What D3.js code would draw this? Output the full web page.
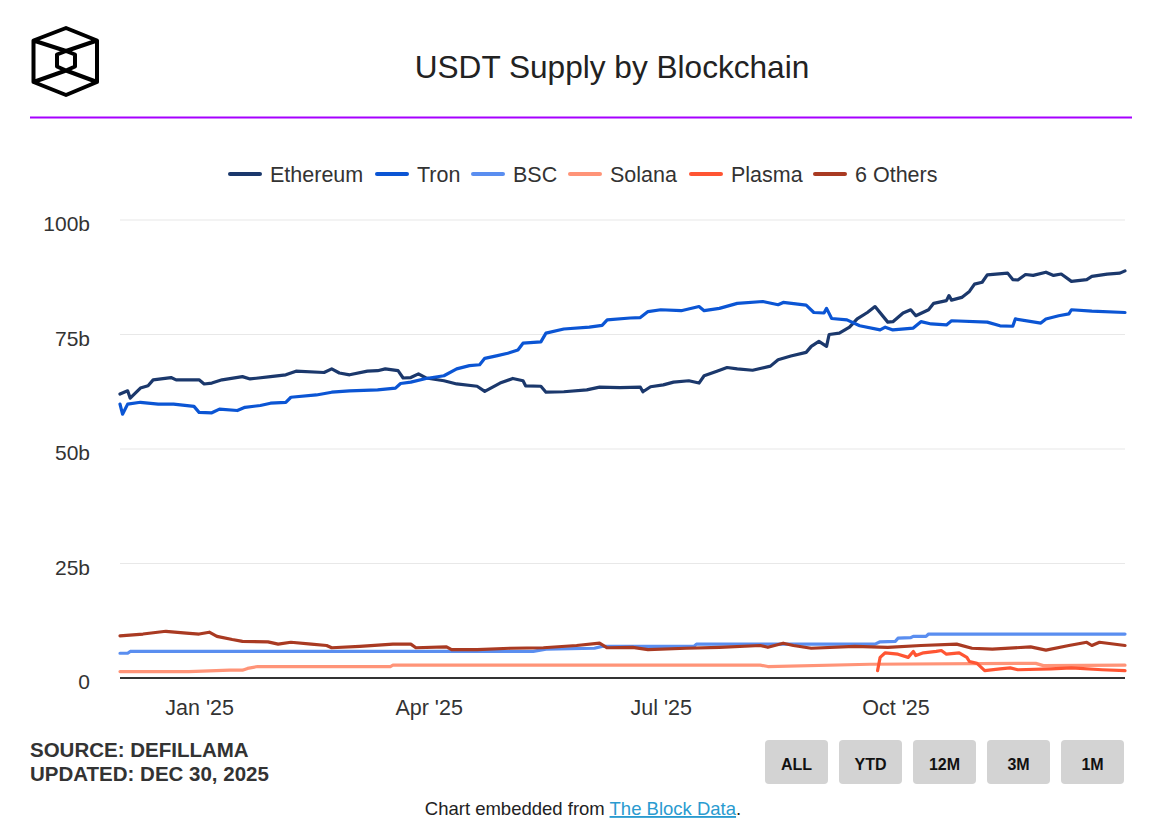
<!DOCTYPE html>
<html>
<head>
<meta charset="utf-8">
<script src="https://cdn.jsdelivr.net/npm/d3@7"></script>
<style>
  body { margin: 0; background: #fff; }
  text { font-family: "Liberation Sans", Arial, Helvetica, sans-serif; }
</style>
</head>
<body>
<div id="chart"></div>
<script>
// series values in billions
var ethereum = [
  ["2024-12-01",62.0],["2024-12-04",62.7],["2024-12-05",61.1],["2024-12-09",63.3],["2024-12-12",63.8],
  ["2024-12-14",65.1],["2024-12-21",65.6],["2024-12-23",65.1],["2025-01-01",65.1],["2025-01-03",64.2],
  ["2025-01-06",64.4],["2025-01-10",65.1],["2025-01-18",65.8],["2025-01-21",65.3],["2025-01-29",65.8],
  ["2025-02-04",66.2],["2025-02-08",67.0],["2025-02-19",66.7],["2025-02-22",67.5],["2025-02-25",66.6],
  ["2025-03-01",66.2],["2025-03-08",67.0],["2025-03-12",67.1],["2025-03-15",67.5],["2025-03-20",67.1],
  ["2025-03-22",65.5],["2025-03-25",65.6],["2025-03-28",66.4],["2025-03-31",65.5],["2025-04-07",64.9],
  ["2025-04-12",64.2],["2025-04-20",63.7],["2025-04-23",62.6],["2025-04-29",64.4],["2025-05-04",65.4],
  ["2025-05-08",64.9],["2025-05-09",63.8],["2025-05-15",63.7],["2025-05-17",62.4],["2025-05-24",62.5],
  ["2025-06-02",62.9],["2025-06-07",63.5],["2025-06-15",63.4],["2025-06-23",63.5],["2025-06-24",62.5],
  ["2025-06-27",63.6],["2025-07-02",64.0],["2025-07-06",64.6],["2025-07-12",64.9],["2025-07-16",64.4],
  ["2025-07-18",66.0],["2025-07-23",67.0],["2025-07-27",67.8],["2025-07-31",67.5],["2025-08-06",67.2],
  ["2025-08-13",68.1],["2025-08-16",69.5],["2025-08-21",70.3],["2025-08-27",71.1],["2025-08-29",72.4],
  ["2025-09-01",73.5],["2025-09-04",72.4],["2025-09-05",75.0],["2025-09-09",75.3],["2025-09-13",76.6],
  ["2025-09-16",78.4],["2025-09-20",79.8],["2025-09-23",81.1],["2025-09-28",77.7],["2025-09-30",77.8],
  ["2025-10-04",79.7],["2025-10-07",80.4],["2025-10-09",79.1],["2025-10-14",80.4],["2025-10-16",81.8],
  ["2025-10-21",82.4],["2025-10-22",83.5],["2025-10-23",82.5],["2025-10-27",83.1],["2025-10-30",84.4],
  ["2025-11-01",86.0],["2025-11-04",86.4],["2025-11-06",88.0],["2025-11-14",88.4],["2025-11-16",87.0],
  ["2025-11-18",86.9],["2025-11-21",88.1],["2025-11-24",87.9],["2025-11-29",88.6],["2025-12-02",87.9],
  ["2025-12-05",88.2],["2025-12-09",86.6],["2025-12-15",87.0],["2025-12-17",87.7],["2025-12-23",88.2],
  ["2025-12-28",88.4],["2025-12-30",88.9]
];
var tron = [
  ["2024-12-01",59.8],["2024-12-02",57.6],["2024-12-04",59.8],["2024-12-09",60.2],["2024-12-16",59.8],
  ["2024-12-22",59.8],["2024-12-30",59.3],["2025-01-01",58.0],["2025-01-06",57.9],["2025-01-09",58.7],
  ["2025-01-16",58.4],["2025-01-19",59.1],["2025-01-25",59.5],["2025-01-29",60.0],["2025-02-04",60.2],
  ["2025-02-06",61.3],["2025-02-16",61.8],["2025-02-22",62.4],["2025-03-01",62.7],["2025-03-12",62.9],
  ["2025-03-19",63.3],["2025-03-21",64.3],["2025-03-25",64.6],["2025-03-31",65.4],["2025-04-07",66.0],
  ["2025-04-12",67.5],["2025-04-17",68.2],["2025-04-21",68.4],["2025-04-23",69.8],["2025-04-28",70.4],
  ["2025-05-02",70.9],["2025-05-06",71.6],["2025-05-08",73.1],["2025-05-15",73.4],["2025-05-17",75.3],
  ["2025-05-24",76.2],["2025-06-03",76.6],["2025-06-08",77.0],["2025-06-10",78.2],["2025-06-19",78.6],
  ["2025-06-23",78.7],["2025-06-26",80.0],["2025-07-01",80.4],["2025-07-09",80.2],["2025-07-16",81.1],
  ["2025-07-18",80.2],["2025-07-24",80.7],["2025-07-31",81.8],["2025-08-10",82.2],["2025-08-16",81.5],
  ["2025-08-18",82.0],["2025-08-27",81.4],["2025-08-30",79.8],["2025-09-03",79.7],["2025-09-04",80.7],
  ["2025-09-06",78.5],["2025-09-12",78.2],["2025-09-17",76.9],["2025-09-25",76.0],["2025-09-27",76.6],
  ["2025-09-30",76.0],["2025-10-08",76.4],["2025-10-11",77.8],["2025-10-15",77.3],["2025-10-21",77.1],
  ["2025-10-23",78.0],["2025-11-06",77.7],["2025-11-11",76.9],["2025-11-16",76.8],["2025-11-17",78.4],
  ["2025-11-27",77.5],["2025-11-29",78.4],["2025-12-04",79.1],["2025-12-08",79.5],["2025-12-09",80.4],
  ["2025-12-17",80.1],["2025-12-30",79.8]
];
var bsc = [
  ["2024-12-01",5.4],["2024-12-04",5.4],["2024-12-05",5.8],["2025-05-12",5.8],["2025-05-17",6.3],
  ["2025-06-05",6.5],["2025-06-08",6.9],["2025-07-14",6.9],["2025-07-15",7.4],["2025-09-23",7.4],
  ["2025-09-25",7.9],["2025-10-01",8.0],["2025-10-02",8.7],["2025-10-07",8.8],["2025-10-08",9.1],
  ["2025-10-13",9.1],["2025-10-14",9.6],["2025-12-30",9.6]
];
var solana = [
  ["2024-12-01",1.4],["2024-12-28",1.4],["2025-01-13",1.7],["2025-01-18",1.7],["2025-01-20",2.1],
  ["2025-01-24",2.5],["2025-03-17",2.5],["2025-03-18",2.8],["2025-08-09",2.8],["2025-08-12",2.5],
  ["2025-09-21",3.0],["2025-11-25",3.2],["2025-11-28",2.7],["2025-12-30",2.8]
];
var plasma = [
  ["2025-09-24",1.6],["2025-09-25",4.5],["2025-09-27",5.5],["2025-10-02",5.2],["2025-10-06",4.5],
  ["2025-10-08",5.8],["2025-10-09",4.9],["2025-10-12",5.5],["2025-10-17",5.8],["2025-10-19",6.0],
  ["2025-10-21",5.2],["2025-10-26",5.5],["2025-10-29",4.5],["2025-10-30",3.6],["2025-11-02",3.2],
  ["2025-11-05",1.6],["2025-11-11",2.0],["2025-11-15",2.2],["2025-11-18",1.8],["2025-12-01",2.0],
  ["2025-12-09",2.2],["2025-12-21",1.8],["2025-12-30",1.6]
];
var others = [
  ["2024-12-01",9.2],["2024-12-10",9.6],["2024-12-19",10.2],["2024-12-27",9.8],["2025-01-01",9.6],
  ["2025-01-05",10.0],["2025-01-08",9.1],["2025-01-14",8.4],["2025-01-18",8.0],["2025-01-28",7.9],
  ["2025-02-01",7.4],["2025-02-06",7.8],["2025-02-14",7.4],["2025-02-20",7.1],["2025-02-22",6.6],
  ["2025-03-05",6.9],["2025-03-18",7.4],["2025-03-25",7.4],["2025-03-27",6.6],["2025-04-08",6.8],
  ["2025-04-10",6.2],["2025-04-20",6.2],["2025-05-03",6.5],["2025-05-16",6.6],["2025-05-29",7.1],
  ["2025-06-07",7.6],["2025-06-10",6.6],["2025-06-20",6.7],["2025-06-26",6.2],["2025-07-11",6.5],
  ["2025-07-24",6.7],["2025-08-09",7.1],["2025-08-12",6.7],["2025-08-18",7.6],["2025-08-22",7.1],
  ["2025-08-29",6.5],["2025-09-15",6.9],["2025-09-28",6.7],["2025-10-11",7.1],["2025-10-25",7.4],
  ["2025-10-31",6.5],["2025-11-08",6.3],["2025-11-23",6.8],["2025-11-29",6.1],["2025-12-08",7.1],
  ["2025-12-15",7.8],["2025-12-17",7.1],["2025-12-20",7.8],["2025-12-30",7.1]
];

var seriesNames = ["Ethereum", "Tron", "BSC", "Solana", "Plasma", "6 Others"];
var seriesColors = ["#1b386c", "#0b55d4", "#5a8ef0", "#ff9478", "#ff5533", "#a93a22"];
var seriesData = [ethereum, tron, bsc, solana, plasma, others];
var yTicks = [0, 25, 50, 75, 100];
var xTicks = ["2025-01-01", "2025-04-01", "2025-07-01", "2025-10-01"];
var buttons = ["ALL", "YTD", "12M", "3M", "1M"];

var W = 1158, H = 834;
var parse = d3.timeParse("%Y-%m-%d");

var svg = d3.select("#chart").append("svg")
    .attr("width", W)
    .attr("height", H);

svg.append("rect").attr("width", W).attr("height", H).attr("fill", "#fff");

// logo
svg.append("path")
    .attr("d", "M66,28L97,40.5L97,82L66,95L33.5,82L33.5,40.5Z" +
               "M66,51L75,54.5L75,66.5L66,70.5L57,66.5L57,54.5Z" +
               "M33.5,40.5L66,51L97,40.5M33.5,82L66,70.5L97,82")
    .attr("fill", "none")
    .attr("stroke", "#000")
    .attr("stroke-width", 4)
    .attr("stroke-linejoin", "round");

// title + purple rule
svg.append("text")
    .attr("x", 612).attr("y", 78)
    .attr("text-anchor", "middle")
    .style("font-size", "31.6px")
    .attr("fill", "#222")
    .text("USDT Supply by Blockchain");

svg.append("line")
    .attr("x1", 30).attr("x2", 1132)
    .attr("y1", 117.5).attr("y2", 117.5)
    .attr("stroke", "#a600ff")
    .attr("stroke-width", 2);

// scales
var x = d3.scaleTime()
    .domain([parse("2024-12-01"), parse("2025-12-30")])
    .range([120, 1125]);

var y = d3.scaleLinear()
    .domain([0, 100])
    .range([678, 220]);

// grid lines
svg.append("g")
    .selectAll("line")
    .data(yTicks.filter(d => d > 0))
    .enter()
    .append("line")
    .attr("x1", 120).attr("x2", 1125)
    .attr("y1", d => y(d)).attr("y2", d => y(d))
    .attr("stroke", "#e8e8e8")
    .attr("stroke-width", 1.2);

// y axis labels
var yAxis = svg.append("g")
    .attr("transform", "translate(90,0)")
    .call(d3.axisLeft(y).tickValues(yTicks).tickSize(0).tickPadding(0)
        .tickFormat(d => d === 0 ? "0" : d + "b"));
yAxis.select(".domain").remove();
yAxis.selectAll("text")
    .attr("dy", "0.5em")
    .style("font-size", "21px")
    .style("font-family", "'Liberation Sans', Arial, sans-serif")
    .attr("fill", "#333");

// x axis labels
var xAxis = svg.append("g")
    .attr("transform", "translate(0,678)")
    .call(d3.axisBottom(x).tickValues(xTicks.map(parse)).tickSize(0).tickPadding(0)
        .tickFormat(d3.timeFormat("%b '%y")));
xAxis.select(".domain").remove();
xAxis.selectAll("text")
    .attr("y", 37)
    .attr("dy", 0)
    .style("font-size", "21.5px")
    .style("font-family", "'Liberation Sans', Arial, sans-serif")
    .attr("fill", "#333");

// lines
var line = d3.line()
    .x(d => x(parse(d[0])))
    .y(d => y(d[1]));

svg.append("g")
    .selectAll("path")
    .data(seriesData)
    .enter()
    .append("path")
    .attr("d", line)
    .attr("fill", "none")
    .attr("stroke", (d, i) => seriesColors[i])
    .attr("stroke-width", 3.2)
    .attr("stroke-linejoin", "round")
    .attr("stroke-linecap", "round");

// zero baseline
svg.append("line")
    .attr("x1", 120).attr("x2", 1125)
    .attr("y1", y(0)).attr("y2", y(0))
    .attr("stroke", "#333")
    .attr("stroke-width", 2);

// legend
var legendX = [228, 375, 471, 568, 689, 813];
var legend = svg.append("g")
    .selectAll("g")
    .data(seriesNames)
    .enter()
    .append("g")
    .attr("transform", (d, i) => "translate(" + legendX[i] + ",174)");
legend.append("line")
    .attr("x1", 2).attr("x2", 32)
    .attr("stroke", (d, i) => seriesColors[i])
    .attr("stroke-width", 4)
    .attr("stroke-linecap", "round");
legend.append("text")
    .attr("x", 42).attr("y", 7.5)
    .style("font-size", "21.5px")
    .attr("fill", "#333")
    .text(d => d);

// footer
svg.append("text")
    .attr("x", 30).attr("y", 757)
    .style("font-size", "20.5px").style("font-weight", "bold")
    .attr("fill", "#333")
    .text("SOURCE: DEFILLAMA");
svg.append("text")
    .attr("x", 30).attr("y", 781)
    .style("font-size", "20.5px").style("font-weight", "bold")
    .attr("fill", "#333")
    .text("UPDATED: DEC 30, 2025");

var btn = svg.append("g")
    .selectAll("g")
    .data(buttons)
    .enter()
    .append("g")
    .attr("transform", (d, i) => "translate(" + (765 + i * 74) + ",740)");
btn.append("rect")
    .attr("width", 63).attr("height", 44)
    .attr("rx", 4)
    .attr("fill", "#d3d3d3");
btn.append("text")
    .attr("x", 31.5).attr("y", 29.5)
    .attr("text-anchor", "middle")
    .style("font-size", "16px").style("font-weight", "bold")
    .attr("fill", "#111")
    .text(d => d);

var foot = svg.append("text")
    .attr("x", 583).attr("y", 815)
    .attr("text-anchor", "middle")
    .style("font-size", "18.5px")
    .attr("fill", "#222");
foot.append("tspan").text("Chart embedded from ");
foot.append("tspan").attr("fill", "#2a9bd0").style("text-decoration", "underline").text("The Block Data");
foot.append("tspan").text(".");
</script>
</body>
</html>
